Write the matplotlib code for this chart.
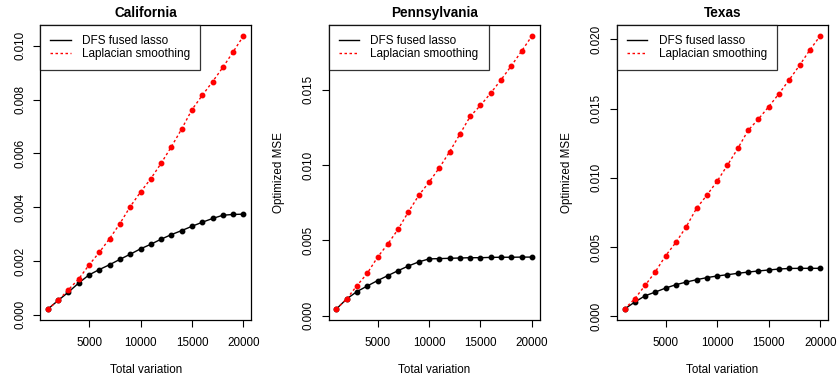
import matplotlib
matplotlib.use('Agg')
import matplotlib.pyplot as plt

plt.rcParams['font.family'] = ['Liberation Sans', 'DejaVu Sans']

tv = [1000, 2000, 3000, 4000, 5000, 6000, 7000, 8000, 9000, 10000,
      11000, 12000, 13000, 14000, 15000, 16000, 17000, 18000, 19000, 20000]

ca_dfs = [0.00021, 0.00053, 0.00084, 0.00118, 0.00148, 0.00168, 0.00186, 0.00206, 0.00225, 0.00245,
          0.00262, 0.00281, 0.00298, 0.00313, 0.00329, 0.00344, 0.00358, 0.00370, 0.00373, 0.00374]
ca_lap = [0.00021, 0.00053, 0.00093, 0.00133, 0.00185, 0.00232, 0.00283, 0.00339, 0.00402, 0.00456,
          0.00506, 0.00563, 0.00625, 0.00691, 0.00763, 0.00816, 0.00867, 0.00920, 0.00978, 0.01037]

pa_dfs = [0.00044, 0.00111, 0.00160, 0.00197, 0.00233, 0.00266, 0.00299, 0.00330, 0.00357, 0.00377,
          0.00379, 0.00381, 0.00383, 0.00385, 0.00385, 0.00387, 0.00388, 0.00388, 0.00389, 0.00389]
pa_lap = [0.00044, 0.00111, 0.00199, 0.00281, 0.00388, 0.00476, 0.00574, 0.00689, 0.00798, 0.00886,
          0.00981, 0.01088, 0.01205, 0.01323, 0.01396, 0.01478, 0.01566, 0.01659, 0.01757, 0.01857]

tx_dfs = [0.00053, 0.00104, 0.00149, 0.00176, 0.00205, 0.00229, 0.00248, 0.00265, 0.00280, 0.00292,
          0.00301, 0.00311, 0.00320, 0.00328, 0.00335, 0.00342, 0.00346, 0.00347, 0.00347, 0.00347]
tx_lap = [0.00053, 0.00128, 0.00224, 0.00323, 0.00439, 0.00535, 0.00648, 0.00781, 0.00875, 0.00976,
          0.01092, 0.01212, 0.01342, 0.01424, 0.01513, 0.01607, 0.01708, 0.01812, 0.01923, 0.02024]

states = ['California', 'Pennsylvania', 'Texas']
dfs_all = [ca_dfs, pa_dfs, tx_dfs]
lap_all = [ca_lap, pa_lap, tx_lap]
yticks_all = [[0.000, 0.002, 0.004, 0.006, 0.008, 0.010],
              [0.000, 0.005, 0.010, 0.015],
              [0.000, 0.005, 0.010, 0.015, 0.020]]
xticks = [5000, 10000, 15000, 20000]

W, H = 838, 378
fig = plt.figure(figsize=(W / 100, H / 100), dpi=100)

lefts = [40, 328.5, 616.7]
width = 211.3
top, bottom = 25, 320

for i, state in enumerate(states):
    ax = fig.add_axes([lefts[i] / W, (H - bottom) / H, width / W, (bottom - top) / H])
    dfs = dfs_all[i]
    lap = lap_all[i]

    ax.plot(tv, dfs, color='black', lw=1, marker='o', ms=3.2, label='DFS fused lasso')
    ax.plot(tv, lap, color='#ff0000', lw=1, linestyle=(0, (1.8, 1.8)), marker='o', ms=3.2,
            label='Laplacian smoothing')

    lo = min(min(dfs), min(lap))
    hi = max(max(dfs), max(lap))
    pad = (hi - lo) * 0.04
    ax.set_ylim(lo - pad, hi + pad)
    ax.set_xlim(1000 - 760, 20000 + 760)

    ax.set_xticks(xticks)
    ax.set_xticklabels([str(t) for t in xticks])
    yt = yticks_all[i]
    ax.set_yticks(yt)
    ax.set_yticklabels(['%.3f' % v for v in yt], rotation=90, va='center')
    ax.tick_params(direction='out', length=5, width=0.8, labelsize=8.4, pad=5)
    ax.tick_params(axis='x', pad=7)
    for s in ax.spines.values():
        s.set_linewidth(0.9)

    ax.set_title(state, fontsize=9.8, fontweight='bold', pad=6)
    ax.set_xlabel('Total variation', fontsize=8.4, labelpad=11)
    if i > 0:
        ax.set_ylabel('Optimized MSE', fontsize=8.4, labelpad=13)

    leg = ax.legend(loc='upper left', fontsize=8.5, frameon=True, fancybox=False,
                    borderaxespad=0, handlelength=1.75, handletextpad=0.95,
                    borderpad=0.85, labelspacing=0.12)
    leg.get_frame().set_edgecolor('black')
    leg.get_frame().set_linewidth(0.9)
    for h in leg.legend_handles:
        h.set_marker('')

fig.savefig('out.png', dpi=100)
